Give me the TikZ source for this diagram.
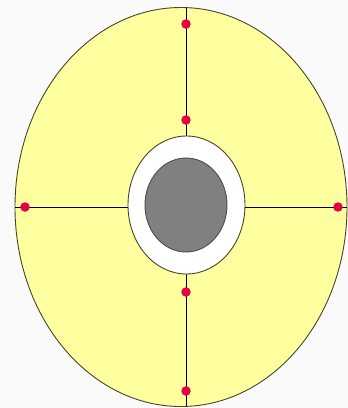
\documentclass[tikz,border=0pt]{standalone}
\definecolor{shellyellow}{RGB}{255,255,160}
\definecolor{dotred}{RGB}{230,0,70}
\definecolor{coregray}{RGB}{128,128,128}
\definecolor{outline}{RGB}{70,70,40}
\tikzset{
  dot/.style={circle,fill=dotred,inner sep=0pt,minimum size=9.5pt},
  spoke/.style={draw=black,line width=0.9pt},
}
\begin{document}
\begin{tikzpicture}[x=1pt,y=-1pt]
\useasboundingbox (0,0) rectangle (348,408);
\fill[white!98!black] (0,0) rectangle (348,408);
% outer shell
\draw[fill=shellyellow,draw=outline,line width=0.9pt] (181,207) ellipse [x radius=166,y radius=199.5];
% white ring
\draw[fill=white,draw=outline,line width=0.9pt] (186.5,205) ellipse [x radius=58.5,y radius=69];
% core
\draw[fill=coregray,draw=black!70,line width=0.9pt] (186,205) ellipse [x radius=41,y radius=47];
% spoke end points
\coordinate (topout) at (186,7.5);
\coordinate (topin) at (186,136);
\coordinate (botin) at (186,274);
\coordinate (botout) at (186,406);
\coordinate (leftout) at (15,207);
\coordinate (leftin) at (128,207);
\coordinate (rightin) at (245,207);
\coordinate (rightout) at (347,207);
\draw[spoke] (topout) -- (topin);
\draw[spoke] (botin) -- (botout);
\draw[spoke] (leftout) -- (leftin);
\draw[spoke] (rightin) -- (rightout);
% dots
\node[dot] (d1) at (186,24) {};
\node[dot] (d2) at (186,120) {};
\node[dot] (d3) at (186,292) {};
\node[dot] (d4) at (186,391) {};
\node[dot] (d5) at (25,207) {};
\node[dot] (d6) at (338,207) {};
\end{tikzpicture}
\end{document}
